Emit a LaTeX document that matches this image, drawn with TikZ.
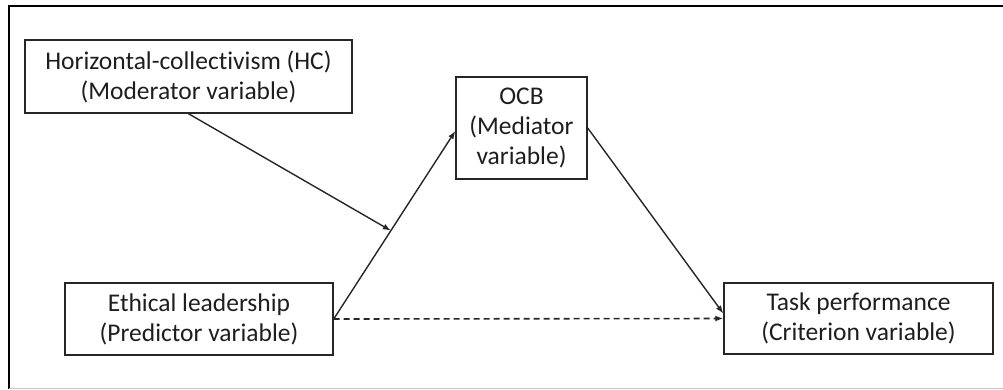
\documentclass[tikz,border=0pt]{standalone}
\usepackage{fontspec}
\setmainfont[Ligatures=NoCommon]{Carlito}
\usetikzlibrary{arrows.meta,calc}
\definecolor{ink}{HTML}{1E1E1E}
\definecolor{edge}{HTML}{262626}
\definecolor{rule}{HTML}{C8C8C8}
\begin{document}
\begin{tikzpicture}[x=1pt,y=-1pt,
  varbox/.style={draw=edge,line width=1.4pt,text=ink,align=center,inner sep=0pt,
    font=\fontsize{25.5}{30}\selectfont},
  link/.style={draw=edge,line width=1.4pt,-{Latex[length=8pt,width=6pt]}},
  dashlink/.style={link,line width=1.6pt,dash pattern=on 6pt off 4pt}]
\useasboundingbox (0,0) rectangle (1003,389);
% page frame
\draw[black,line width=2.4pt] (9,389) -- (9,6) -- (1003,6);
\draw[rule,line width=1pt] (9,388) -- (1003,388);
% variables
\node[varbox,minimum width=327pt,minimum height=73pt] (hc) at (188.5,76.5)
  {Horizontal-collectivism (HC)\\(Moderator variable)};
\node[varbox,minimum width=131pt,minimum height=102pt] (ocb) at (521.5,128)
  {OCB\\(Mediator\\variable)};
\node[varbox,minimum width=268pt,minimum height=72pt] (eth) at (199,319)
  {Ethical leadership\\(Predictor variable)};
\node[varbox,minimum width=269pt,minimum height=71pt] (task) at (858.5,318.5)
  {Task performance\\(Criterion variable)};
% paths
\coordinate (mod) at ($(eth.east)!0.47!($(ocb.west)+(0,3)$)$);
\draw[link] (eth.east) -- ($(ocb.west)+(0,3)$);
\draw[link] (ocb.east) -- ($(task.west)+(0,-5)$);
\draw[dashlink] (eth.east) -- (task.west);
\draw[link] (hc.south) -- (mod);
\end{tikzpicture}
\end{document}
